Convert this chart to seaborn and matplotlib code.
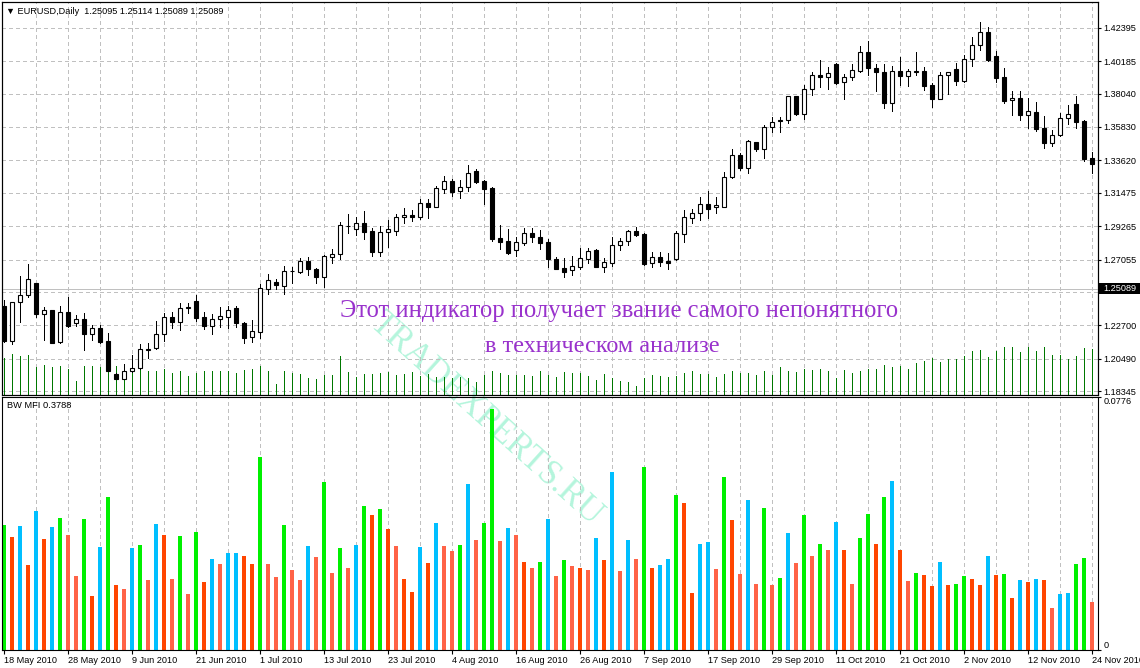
import numpy as np
import pandas as pd
import matplotlib
matplotlib.use("Agg")
import matplotlib.pyplot as plt
import matplotlib.transforms as mtransforms
from matplotlib.patches import Rectangle
import seaborn as sns

# ---------------- data ----------------
date_labels = ["18 May 2010", "28 May 2010", "9 Jun 2010", "21 Jun 2010", "1 Jul 2010",
               "13 Jul 2010", "23 Jul 2010", "4 Aug 2010", "16 Aug 2010", "26 Aug 2010",
               "7 Sep 2010", "17 Sep 2010", "29 Sep 2010", "11 Oct 2010", "21 Oct 2010",
               "2 Nov 2010", "12 Nov 2010", "24 Nov 2010"]

price_levels = [1.42395, 1.40185, 1.38040, 1.35830, 1.33620, 1.31475, 1.29265,
                1.27055, 1.24910, 1.22700, 1.20490, 1.18345]
hidden_level = 1.24910
last_price = 1.25089

opens = [1.2399, 1.2170, 1.2423, 1.2469, 1.2549, 1.2348, 1.2372, 1.2163, 1.2357, 1.2284,
         1.2313, 1.2211, 1.2251, 1.2167, 1.1949, 1.1918, 1.1967, 1.1987, 1.2110, 1.2119,
         1.2211, 1.2324, 1.2295, 1.2383, 1.2430, 1.2324, 1.2269, 1.2311, 1.2328, 1.2383,
         1.2284, 1.2192, 1.2229, 1.2513, 1.2555, 1.2533, 1.2630, 1.2626, 1.2694, 1.2641,
         1.2588, 1.2725, 1.2741, 1.2926, 1.2906, 1.2945, 1.2895, 1.2754, 1.2886, 1.2895,
         1.2985, 1.2998, 1.2985, 1.3078, 1.3056, 1.3173, 1.3223, 1.3160, 1.3184, 1.3290,
         1.3223, 1.3177, 1.2846, 1.2826, 1.2767, 1.2818, 1.2879, 1.2853, 1.2820, 1.2710,
         1.2650, 1.2637, 1.2659, 1.2712, 1.2769, 1.2659, 1.2685, 1.2800, 1.2826, 1.2895,
         1.2875, 1.2681, 1.2721, 1.2694, 1.2707, 1.2873, 1.2983, 1.3012, 1.3071, 1.3051,
         1.3056, 1.3250, 1.3395, 1.3309, 1.3481, 1.3435, 1.3580, 1.3622, 1.3627, 1.3786,
         1.3671, 1.3832, 1.3924, 1.3911, 1.3999, 1.3880, 1.3911, 1.3955, 1.4077, 1.3971,
         1.3944, 1.3739, 1.3953, 1.3922, 1.3949, 1.3951, 1.3860, 1.3770, 1.3924, 1.3964,
         1.3889, 1.4030, 1.4123, 1.4209, 1.4050, 1.3911, 1.3759, 1.3772, 1.3660, 1.3680,
         1.3576, 1.3479, 1.3528, 1.3640, 1.3733, 1.3620, 1.3375]

highs = [1.2439, 1.2428, 1.2597, 1.2674, 1.2553, 1.2392, 1.2372, 1.2399, 1.2461, 1.2339,
         1.2350, 1.2273, 1.2273, 1.2218, 1.1953, 1.2013, 1.2075, 1.2147, 1.2152, 1.2300,
         1.2350, 1.2357, 1.2416, 1.2416, 1.2472, 1.2357, 1.2344, 1.2392, 1.2399, 1.2399,
         1.2295, 1.2306, 1.2542, 1.2610, 1.2575, 1.2663, 1.2659, 1.2718, 1.2725, 1.2648,
         1.2736, 1.2778, 1.2952, 1.3007, 1.2990, 1.3027, 1.2912, 1.2930, 1.2968, 1.3007,
         1.3045, 1.3034, 1.3106, 1.3106, 1.3195, 1.3259, 1.3239, 1.3232, 1.3331, 1.3302,
         1.3232, 1.3184, 1.2932, 1.2908, 1.2857, 1.2912, 1.2917, 1.2901, 1.2842, 1.2721,
         1.2714, 1.2729, 1.2780, 1.2780, 1.2773, 1.2714, 1.2857, 1.2846, 1.2901, 1.2921,
         1.2879, 1.2754, 1.2758, 1.2747, 1.2895, 1.3034, 1.3038, 1.3122, 1.3160, 1.3122,
         1.3283, 1.3437, 1.3408, 1.3497, 1.3486, 1.3596, 1.3651, 1.3651, 1.3788, 1.3790,
         1.3860, 1.3949, 1.4026, 1.3977, 1.4008, 1.3933, 1.3997, 1.4118, 1.4154, 1.3997,
         1.3999, 1.3986, 1.4046, 1.3964, 1.4079, 1.3977, 1.3871, 1.3946, 1.3949, 1.4004,
         1.4059, 1.4180, 1.4277, 1.4242, 1.4088, 1.3973, 1.3821, 1.3823, 1.3772, 1.3748,
         1.3655, 1.3563, 1.3673, 1.3728, 1.3788, 1.3629, 1.3417]

lows = [1.2163, 1.2145, 1.2295, 1.2461, 1.2328, 1.2174, 1.2156, 1.2156, 1.2262, 1.2269,
        1.2108, 1.2174, 1.2152, 1.1971, 1.1914, 1.1914, 1.1962, 1.1985, 1.2053, 1.2116,
        1.2170, 1.2255, 1.2240, 1.2354, 1.2302, 1.2247, 1.2211, 1.2262, 1.2251, 1.2262,
        1.2152, 1.2163, 1.2185, 1.2478, 1.2509, 1.2478, 1.2549, 1.2620, 1.2604, 1.2549,
        1.2522, 1.2681, 1.2707, 1.2884, 1.2868, 1.2840, 1.2729, 1.2729, 1.2791, 1.2868,
        1.2950, 1.2963, 1.2974, 1.2979, 1.3051, 1.3144, 1.3129, 1.3115, 1.3162, 1.3215,
        1.3074, 1.2831, 1.2778, 1.2743, 1.2732, 1.2802, 1.2820, 1.2774, 1.2659, 1.2641,
        1.2588, 1.2604, 1.2646, 1.2681, 1.2654, 1.2626, 1.2663, 1.2769, 1.2802, 1.2862,
        1.2670, 1.2659, 1.2666, 1.2641, 1.2703, 1.2824, 1.2950, 1.2968, 1.2979, 1.3016,
        1.3051, 1.3243, 1.3298, 1.3276, 1.3426, 1.3380, 1.3552, 1.3552, 1.3611, 1.3662,
        1.3633, 1.3794, 1.3849, 1.3832, 1.3867, 1.3770, 1.3893, 1.3949, 1.3927, 1.3823,
        1.3710, 1.3691, 1.3860, 1.3856, 1.3927, 1.3827, 1.3717, 1.3767, 1.3801, 1.3858,
        1.3878, 1.3988, 1.4092, 1.4017, 1.3883, 1.3744, 1.3664, 1.3629, 1.3574, 1.3558,
        1.3446, 1.3457, 1.3526, 1.3602, 1.3574, 1.3360, 1.3281]

closes = [1.2170, 1.2423, 1.2472, 1.2575, 1.2344, 1.2370, 1.2156, 1.2357, 1.2269, 1.2311,
          1.2211, 1.2251, 1.2163, 1.1971, 1.1918, 1.1969, 1.1987, 1.2112, 1.2116, 1.2214,
          1.2324, 1.2295, 1.2383, 1.2390, 1.2322, 1.2269, 1.2313, 1.2330, 1.2370, 1.2284,
          1.2189, 1.2231, 1.2516, 1.2569, 1.2535, 1.2628, 1.2631, 1.2694, 1.2641, 1.2588,
          1.2729, 1.2743, 1.2932, 1.2930, 1.2945, 1.2890, 1.2754, 1.2886, 1.2906, 1.2985,
          1.2998, 1.2985, 1.3078, 1.3051, 1.3177, 1.3223, 1.3151, 1.3184, 1.3276, 1.3221,
          1.3171, 1.2844, 1.2824, 1.2751, 1.2820, 1.2879, 1.2853, 1.2813, 1.2712, 1.2646,
          1.2626, 1.2663, 1.2714, 1.2760, 1.2659, 1.2688, 1.2800, 1.2826, 1.2895, 1.2871,
          1.2679, 1.2721, 1.2692, 1.2681, 1.2879, 1.2985, 1.3012, 1.3074, 1.3043, 1.3065,
          1.3250, 1.3395, 1.3309, 1.3488, 1.3435, 1.3580, 1.3618, 1.3627, 1.3786, 1.3671,
          1.3832, 1.3924, 1.3911, 1.3938, 1.3876, 1.3911, 1.3958, 1.4077, 1.3971, 1.3944,
          1.3739, 1.3955, 1.3922, 1.3951, 1.3953, 1.3856, 1.3770, 1.3924, 1.3944, 1.3889,
          1.4030, 1.4123, 1.4209, 1.4026, 1.3909, 1.3757, 1.3772, 1.3660, 1.3686, 1.3572,
          1.3479, 1.3528, 1.3642, 1.3666, 1.3618, 1.3369, 1.3336]

volumes = [22000, 24400, 23400, 24000, 16400, 18000, 16800, 17400, 15600, 8400,
           17400, 17400, 16400, 16400, 17400, 17400, 23400, 16400, 14400, 14000,
           15200, 13200, 14400, 11400, 13200, 14400, 14400, 14000, 14400, 13200,
           14800, 15400, 17400, 14400, 6400, 14000, 13200, 12400, 10000, 9400,
           12000, 12000, 23400, 13800, 10800, 12600, 12600, 13200, 13800, 12000,
           12600, 13800, 11400, 12600, 10800, 10800, 10200, 10800, 10200, 7800,
           12000, 14400, 13200, 12000, 12000, 12000, 11400, 14400, 12000, 10800,
           13800, 13200, 13200, 11400, 9000, 12600, 10200, 8400, 7800, 5400,
           10200, 12000, 11400, 10800, 11400, 13200, 14400, 12600, 12600, 10800,
           12600, 14400, 13200, 13200, 12000, 14400, 12000, 16800, 14400, 13800,
           15600, 15000, 15600, 14400, 10200, 15000, 13200, 14400, 15200, 15200,
           18000, 16800, 17400, 15600, 18800, 20400, 21800, 19400, 21400, 21400,
           23400, 26000, 27000, 22800, 26000, 28800, 28800, 25400, 28800, 26000,
           28800, 24000, 24000, 21400, 23400, 28200, 27600]

mfi_values = [0.03824, 0.03456, 0.03793, 0.02597, 0.04253, 0.03394, 0.03762, 0.04038, 0.03517, 0.02259,
              0.04008, 0.01646, 0.03149, 0.04683, 0.01983, 0.01861, 0.03118, 0.03210, 0.02137, 0.03854,
              0.03517, 0.02167, 0.03486, 0.01707, 0.03609, 0.02075, 0.02781, 0.02628, 0.02965, 0.02965,
              0.02873, 0.02628, 0.05909, 0.02628, 0.02229, 0.03824, 0.02443, 0.02137, 0.03180, 0.02842,
              0.05143, 0.02352, 0.03118, 0.02505, 0.03210, 0.04407, 0.04130, 0.04315, 0.03701, 0.03180,
              0.02167, 0.01769, 0.03149, 0.02658, 0.03885, 0.03180, 0.03026, 0.03210, 0.05081, 0.03364,
              0.03885, 0.07382, 0.03333, 0.03732, 0.03517, 0.02689, 0.02505, 0.02689, 0.04008, 0.02259,
              0.02750, 0.02566, 0.02505, 0.02443, 0.03425, 0.02750, 0.05449, 0.02413, 0.03364, 0.02781,
              0.05603, 0.02505, 0.02597, 0.02781, 0.04744, 0.04499, 0.01738, 0.03241, 0.03302, 0.02474,
              0.05296, 0.03977, 0.02321, 0.04591, 0.02014, 0.04345, 0.01983, 0.02198, 0.03578, 0.02658,
              0.04130, 0.02873, 0.03241, 0.03057, 0.03916, 0.03057, 0.02014, 0.03425, 0.04161, 0.03241,
              0.04683, 0.05173, 0.03057, 0.02106, 0.02352, 0.02290, 0.01953, 0.02689, 0.01983, 0.02014,
              0.02259, 0.02167, 0.01983, 0.02873, 0.02290, 0.02321, 0.01585, 0.02137, 0.02075, 0.02167,
              0.02137, 0.01278, 0.01707, 0.01738, 0.02628, 0.02812, 0.01462]

# g = green (MFI up / volume up), b = blue (fake), r = fade, p = squat
mfi_kinds = ['g', 'r', 'b', 'r', 'b', 'r', 'b', 'g', 'p', 'p',
             'g', 'r', 'b', 'g', 'r', 'p', 'b', 'g', 'p', 'b',
             'r', 'p', 'g', 'p', 'g', 'r', 'b', 'p', 'b', 'b',
             'r', 'r', 'g', 'p', 'p', 'g', 'p', 'p', 'b', 'p',
             'g', 'p', 'g', 'p', 'b', 'g', 'r', 'g', 'r', 'p',
             'r', 'r', 'b', 'r', 'b', 'p', 'p', 'g', 'b', 'p',
             'g', 'g', 'p', 'b', 'p', 'r', 'p', 'g', 'b', 'p',
             'g', 'p', 'r', 'p', 'b', 'r', 'b', 'p', 'b', 'p',
             'g', 'r', 'b', 'b', 'g', 'r', 'r', 'b', 'b', 'p',
             'g', 'r', 'p', 'b', 'p', 'g', 'p', 'g', 'b', 'p',
             'g', 'p', 'g', 'p', 'b', 'r', 'p', 'g', 'g', 'r',
             'g', 'b', 'r', 'p', 'g', 'r', 'r', 'b', 'r', 'g',
             'g', 'r', 'r', 'b', 'r', 'g', 'r', 'b', 'r', 'b',
             'r', 'p', 'b', 'b', 'g', 'g', 'p']

mfi_max_label = 0.0776
mfi_title = "BW MFI 0.3788"
header = "\u25bc EURUSD,Daily  1.25095 1.25114 1.25089 1.25089"
note_line1 = "Этот индикатор получает звание самого непонятного"
note_line2 = "в техническом анализе"
watermark = "TRADEXPERTS.RU"

# ---------------- style ----------------
sns.set_style("white")
plt.rcParams['font.family'] = ['Liberation Sans', 'DejaVu Sans']

W, H = 1140, 668
fig = plt.figure(figsize=(W / 100, H / 100), dpi=100)
fig.patch.set_facecolor('white')


def fx(px):
    return px / W


def fy(py):
    return 1 - py / H


LEFT, RIGHT = 2.0, 1097.5
ax = fig.add_axes([fx(LEFT), fy(394.5), (RIGHT - LEFT) / W, (394.5 - 2.0) / H])
axv = ax.twinx()
axm = fig.add_axes([fx(LEFT), fy(650), (RIGHT - LEFT) / W, (650 - 397) / H])

for a in (ax, axv, axm):
    a.patch.set_visible(False)
    for s in a.spines.values():
        s.set_color('black')
        s.set_linewidth(0.8)
ax.set_zorder(3)
axv.set_zorder(2)
axm.set_zorder(2)

n = len(opens)
idx = np.arange(n)
o = np.array(opens)
c = np.array(closes)
hi = np.array(highs)
lo = np.array(lows)

XMIN, XMAX = -0.25, 136.69
grid_kw = dict(color='#c0c0c0', lw=0.72, ls=(0, (3, 3)), antialiased=False)

# ---------------- price panel ----------------
ax.set_xlim(XMIN, XMAX)
ax.set_ylim(1.18133, 1.44095)
axv.set_ylim(0, 235500)
axv.set_yticks([])

blend = mtransforms.blended_transform_factory(axv.transAxes, ax.transData)
for p in price_levels:
    axv.plot([0, 1], [p, p], transform=blend, zorder=0.5, **grid_kw)
for b in range(4, n, 4):
    axv.axvline(b, zorder=0.5, **grid_kw)
    axm.axvline(b, zorder=0.5, **grid_kw)

axv.vlines(idx, 0, volumes, color='#007800', lw=0.72, zorder=2, antialiased=False)

ax.axhline(last_price, color='#c0c0c0', lw=0.72, zorder=0.8, antialiased=False)

ax.vlines(idx, lo, hi, color='black', lw=0.72, zorder=2, antialiased=False)
up = c >= o
body_lo = np.minimum(o, c)
body_h = np.abs(c - o)
ax.bar(idx, body_h, bottom=body_lo, width=0.5,
       color=np.where(up, 'white', 'black'), edgecolor='black', linewidth=0.8, zorder=3)

ax.yaxis.tick_right()
ax.set_yticks(price_levels)
ax.set_yticklabels(["" if p == hidden_level else f"{p:.5f}" for p in price_levels])
ax.tick_params(axis='y', which='both', right=True, left=False, length=2.5, width=0.8,
               pad=2, labelsize=6.6, colors='black', direction='out')
ax.tick_params(axis='x', bottom=False, labelbottom=False)
axv.tick_params(axis='x', bottom=False, labelbottom=False)

# ---------------- MFI panel ----------------
palette = {'g': '#00F000', 'b': '#00BFFF', 'r': '#FF4500', 'p': '#FF6347'}
df = pd.DataFrame({'bar': idx, 'mfi': mfi_values, 'kind': mfi_kinds})
sns.barplot(data=df, x='bar', y='mfi', hue='kind', palette=palette, dodge=False,
            native_scale=True, width=0.52, errorbar=None, legend=False, saturation=1,
            linewidth=0, ax=axm, zorder=2)
axm.set_xlim(XMIN, XMAX)
axm.set_ylim(0, mfi_max_label)
axm.set_xlabel('')
axm.set_ylabel('')
axm.set_xticks(list(range(0, n, 8)))
axm.set_xticklabels(date_labels)
for lab in axm.get_xticklabels():
    lab.set_ha('left')
axm.tick_params(axis='x', bottom=True, length=3, width=0.8, pad=1.5, labelsize=6.6,
                colors='black', direction='out')
axm.yaxis.tick_right()
axm.set_yticks([0, mfi_max_label])
axm.set_yticklabels(['0', f"{mfi_max_label:.4f}"])
axm.tick_params(axis='y', right=True, left=False, length=2.5, width=0.8, pad=2,
                labelsize=6.6, colors='black', direction='out')
ticks = axm.yaxis.get_major_ticks()
ticks[0].label2.set_va('bottom')
ticks[1].label2.set_va('top')

# ---------------- texts ----------------
fig.text(fx(6), fy(11), header, fontsize=6.6, va='center', ha='left', color='black')
fig.text(fx(7), fy(405.5), mfi_title, fontsize=6.7, va='center', ha='left', color='black', zorder=10)

fig.text(fx(619), fy(317), note_line1, fontsize=17.7, family=['Liberation Serif', 'DejaVu Serif'],
         color='#9932CC', ha='center', va='baseline', zorder=10)
fig.text(fx(602), fy(352), note_line2, fontsize=17.5, family=['Liberation Serif', 'DejaVu Serif'],
         color='#9932CC', ha='center', va='baseline', zorder=10)

fig.text(fx(486), fy(419), watermark, fontsize=25, family=['Liberation Serif', 'DejaVu Serif'],
         color='#b4f5dc', rotation=-42, rotation_mode='anchor', ha='center', va='center', zorder=-1)

# last price marker on the right scale
fig.add_artist(Rectangle((fx(1098.5), fy(294.3)), 41.5 / W, 11.3 / H, transform=fig.transFigure,
                         facecolor='black', edgecolor='none', zorder=20))
fig.text(fx(1103), fy(288.6), f"{last_price:.5f}", fontsize=6.6, color='white', va='center',
         ha='left', zorder=21)

fig.savefig('out.png', dpi=100)
